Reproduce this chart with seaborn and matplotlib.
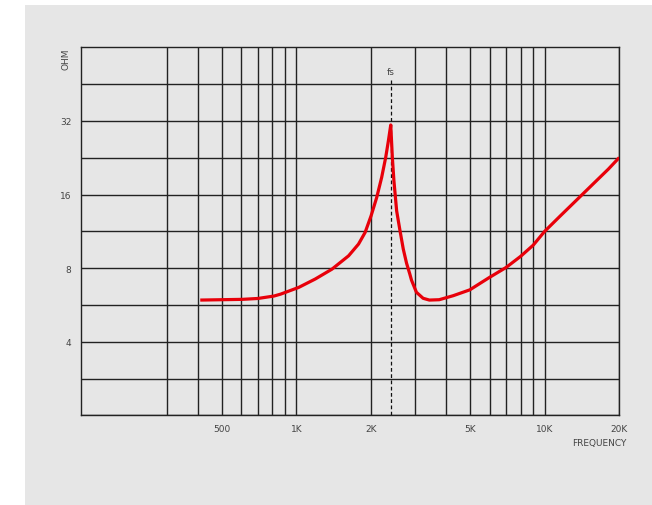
import matplotlib
matplotlib.use("Agg")
import matplotlib.pyplot as plt
from matplotlib.patches import Rectangle
import pandas as pd
import seaborn as sns

# Impedance curve of the driver (frequency in Hz, impedance in ohm)
freq_hz = [410, 605, 700, 813, 864, 1022, 1192, 1391, 1623, 1780, 1892, 2000,
           2107, 2206, 2290, 2348, 2400, 2436, 2472, 2535, 2613, 2696, 2779,
           2865, 2910, 3046, 3241, 3435, 3762, 4286, 5000, 5497, 6000, 7000,
           8000, 9000, 10000, 11580, 13570, 15910, 18060, 20000]
impedance_ohm = [5.92, 5.96, 6.01, 6.15, 6.26, 6.67, 7.22, 7.92, 8.98, 10.03,
                 11.19, 13.09, 15.56, 18.79, 22.67, 26.5, 30.8, 22.67, 18.19,
                 13.72, 11.44, 9.57, 8.38, 7.56, 7.14, 6.37, 6.02, 5.92, 5.94,
                 6.17, 6.52, 6.93, 7.33, 8.05, 8.93, 9.93, 11.30, 13.09, 15.31,
                 17.92, 20.31, 22.67]

fs_hz = 2400  # resonance frequency

x_ticks = [500, 1000, 2000, 5000, 10000, 20000]
x_tick_labels = ["500", "1K", "2K", "5K", "10K", "20K"]
x_grid = [300, 400, 500, 600, 700, 800, 900, 1000, 2000, 3000, 4000, 5000,
          6000, 7000, 8000, 9000, 10000, 20000]
y_ticks = [4, 8, 16, 32]
y_tick_labels = ["4", "8", "16", "32"]

df = pd.DataFrame({"freq": freq_hz, "ohm": impedance_ohm})

sns.set_style("white")
plt.rcParams["font.family"] = ["DejaVu Sans"]

bg = "#e6e6e6"
grid_c = "#222222"
text_c = "#444444"

fig = plt.figure(figsize=(6.52, 5.06), dpi=100)
fig.patch.set_facecolor("white")
fig.patches.append(Rectangle((25 / 652, 0), 1 - 25 / 652, 500 / 506,
                             transform=fig.transFigure, facecolor=bg,
                             edgecolor="none", zorder=-10))

ax = fig.add_axes([81.3 / 652, (506 - 416.3) / 506, 538 / 652, 368 / 506])
ax.set_facecolor(bg)
ax.set_xscale("log")
ax.set_yscale("log", base=2)
x_lo = 136
ax.set_xlim(x_lo, 20000)
ax.set_ylim(2, 64)

# grid: decade subdivisions vertically, half-octave steps horizontally
for gx in x_grid:
    ax.axvline(gx, color=grid_c, lw=1.0, zorder=1)
for k in range(2, 12):
    ax.axhline(2 ** (k / 2), color=grid_c, lw=1.0, zorder=1)

for s in ax.spines.values():
    s.set_color(grid_c)
    s.set_linewidth(1.0)

# resonance marker
ax.axvline(fs_hz, ymin=0, ymax=0.914, color="#111111", lw=0.9,
           ls=(0, (3, 2)), zorder=2)
ax.text(fs_hz, 0.934, "fs", transform=ax.get_xaxis_transform(),
        ha="center", va="center", fontsize=6.5, color=text_c)

sns.lineplot(data=df, x="freq", y="ohm", ax=ax, color="#e8000a", lw=2.3,
             sort=False, estimator=None, zorder=3,
             solid_joinstyle="round", solid_capstyle="butt")

ax.set_xticks(x_ticks)
ax.set_xticklabels(x_tick_labels)
ax.set_xticks([x_lo], minor=True)
ax.set_xticklabels([""], minor=True)
ax.set_yticks(y_ticks)
ax.set_yticklabels(y_tick_labels)
ax.yaxis.set_minor_locator(matplotlib.ticker.NullLocator())
ax.tick_params(axis="x", which="major", length=0, pad=6, labelsize=6.5,
               labelcolor=text_c)
ax.tick_params(axis="x", which="minor", length=4.3, width=1.0, color=grid_c,
               direction="out")
ax.tick_params(axis="y", which="major", length=0, pad=7, labelsize=6.5,
               labelcolor=text_c)
ax.set_xlabel("")
ax.set_ylabel("")

ax.text(-0.0284, 1.0, "OHM", transform=ax.transAxes, rotation=90,
        ha="center", va="top", fontsize=6.5, color=text_c)
ax.text(1.0137, -0.0726, "FREQUENCY", transform=ax.transAxes,
        ha="right", va="center", fontsize=6.5, color=text_c)

fig.savefig("out.png", dpi=100, facecolor=fig.get_facecolor())
